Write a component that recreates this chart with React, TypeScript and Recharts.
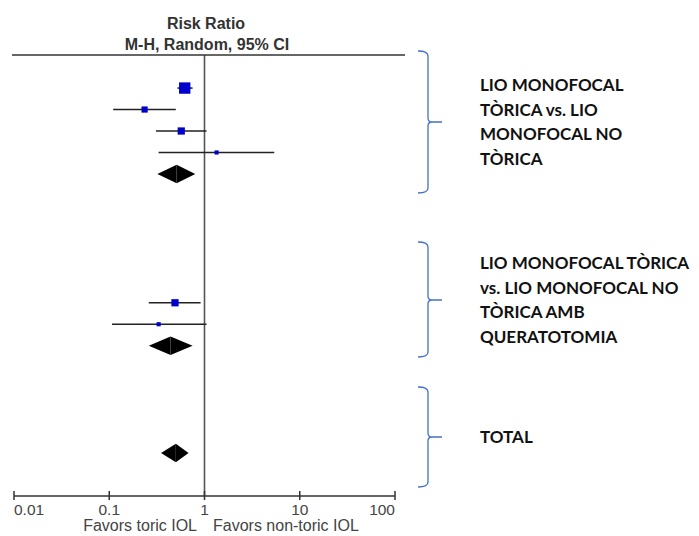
import { ComposedChart, XAxis, YAxis, Scatter, ReferenceLine, ReferenceArea } from "recharts";

// x axis: risk ratio, log scale
const TICKS = [0.01, 0.1, 1, 10, 100];

// individual studies (row = line in the forest plot, top to bottom)
const studyRows = [0, 1, 2, 3, 10, 11];
const studyRR = [0.62, 0.235, 0.57, 1.34, 0.49, 0.33];
const studyLow = [0.52, 0.11, 0.31, 0.33, 0.26, 0.107];
const studyHigh = [0.75, 0.5, 1.05, 5.4, 0.91, 1.05];
const studyWeight = [42.2, 12.5, 17.1, 5.6, 17.1, 5.6];

// pooled estimates (subgroup 1, subgroup 2, total)
const pooledRows = [4, 12, 17];
const pooledRR = [0.51, 0.44, 0.5];
const pooledLow = [0.32, 0.26, 0.35];
const pooledHigh = [0.8, 0.75, 0.68];

const groupLabels = [
  ["LIO MONOFOCAL", "TÒRICA vs. LIO", "MONOFOCAL NO", "TÒRICA"],
  ["LIO MONOFOCAL TÒRICA", "vs. LIO MONOFOCAL NO", "TÒRICA AMB", "QUERATOTOMIA"],
  ["TOTAL"],
];

const W = 699;
const H = 536;
const C_SQUARE = "#0000CC";
const C_LINE = "#333";
const C_BRACE = "#4472C4";
const SANS = "'Liberation Sans', Arial, sans-serif";

const studies = studyRows.map((y, i) => ({
  y,
  x: studyRR[i],
  lo: studyLow[i],
  hi: studyHigh[i],
  w: studyWeight[i],
}));

const SquareShape = (props: any) => {
  const { cx, cy, payload } = props;
  const s = Math.sqrt(payload.w) * 1.75;
  return <rect x={cx - s / 2} y={cy - s / 2} width={s} height={s} fill={C_SQUARE} />;
};

const LeftHalf = (p: any) => (
  <polygon
    points={`${p.x},${p.y + p.height / 2} ${p.x + p.width},${p.y} ${p.x + p.width},${p.y + p.height}`}
    fill="#000"
  />
);
const RightHalf = (p: any) => (
  <polygon
    points={`${p.x},${p.y} ${p.x + p.width},${p.y + p.height / 2} ${p.x},${p.y + p.height}`}
    fill="#000"
  />
);

const AxisTick = (props: any) => {
  const { x, y, payload, index } = props;
  const anchor = index === 0 ? "start" : index === TICKS.length - 1 ? "end" : "middle";
  return (
    <g>
      <line x1={x} x2={x} y1={y - 5} y2={y + 4} stroke={C_LINE} strokeWidth={1.5} />
      <text x={x} y={y + 19} textAnchor={anchor} fontSize={15.5} fill="#444" fontFamily={SANS}>
        {payload.value}
      </text>
    </g>
  );
};

function bracePath(t: number, m: number, b: number) {
  const x0 = 418;
  const x1 = 428;
  const x2 = 442;
  return (
    `M${x0},${t} Q${x1},${t} ${x1},${t + 5} L${x1},${m - 4} Q${x1},${m} ${x1 + 4},${m} L${x2},${m} ` +
    `M${x1 + 4},${m} Q${x1},${m} ${x1},${m + 4} L${x1},${b - 5} Q${x1},${b} ${x0},${b}`
  );
}

const braces = [
  [51, 122, 193],
  [242, 300, 357],
  [387, 437, 487],
];
const labelTop = [91, 269, 443];

export default function App() {
  return (
    <div style={{ position: "absolute", left: 0, top: 0, width: W, height: H, background: "#fff" }}>
      <ComposedChart
        width={W}
        height={H}
        margin={{ top: 55, right: W - 395, bottom: 0, left: 14 }}
      >
        <XAxis
          type="number"
          dataKey="x"
          scale="log"
          domain={[0.01, 100]}
          ticks={TICKS}
          allowDataOverflow
          height={40}
          axisLine={{ stroke: C_LINE, strokeWidth: 1.5 }}
          tickLine={false}
          tickSize={0}
          tickMargin={0}
          tick={<AxisTick />}
          interval={0}
        />
        <YAxis type="number" dataKey="y" domain={[-1.54, 19]} reversed hide allowDataOverflow />
        <ReferenceLine x={1} stroke="#555" strokeWidth={1.6} />
        {studies.map((s, i) => (
          <ReferenceLine
            key={`ci${i}`}
            segment={[
              { x: s.lo, y: s.y },
              { x: s.hi, y: s.y },
            ]}
            stroke="#222"
            strokeWidth={1.5}
          />
        ))}
        {pooledRows.map((r, i) => (
          <ReferenceArea
            key={`dl${i}`}
            x1={pooledLow[i]}
            x2={pooledRR[i]}
            y1={r - 0.43}
            y2={r + 0.43}
            shape={LeftHalf}
          />
        ))}
        {pooledRows.map((r, i) => (
          <ReferenceArea
            key={`dr${i}`}
            x1={pooledRR[i]}
            x2={pooledHigh[i]}
            y1={r - 0.43}
            y2={r + 0.43}
            shape={RightHalf}
          />
        ))}
        <Scatter data={studies} shape={SquareShape} isAnimationActive={false} />
      </ComposedChart>
      <svg
        width={W}
        height={H}
        style={{ position: "absolute", left: 0, top: 0, pointerEvents: "none" }}
      >
        <text x={206} y={29} textAnchor="middle" fontSize={16} fontWeight="bold" fill="#333" fontFamily={SANS}>
          Risk Ratio
        </text>
        <text x={207} y={50} textAnchor="middle" fontSize={16} fontWeight="bold" fill="#333" fontFamily={SANS}>
          M-H, Random, 95% CI
        </text>
        <line x1={12} x2={405} y1={55} y2={55} stroke={C_LINE} strokeWidth={1.5} />
        <text x={197} y={531} textAnchor="end" fontSize={16} fill="#444" fontFamily={SANS}>
          Favors toric IOL
        </text>
        <text x={213} y={531} textAnchor="start" fontSize={16} fill="#444" fontFamily={SANS}>
          Favors non-toric IOL
        </text>
        {braces.map(([t, m, b], i) => (
          <path key={`b${i}`} d={bracePath(t, m, b)} stroke={C_BRACE} strokeWidth={1.3} fill="none" />
        ))}
        {groupLabels.map((lines, g) =>
          lines.map((ln, j) => (
            <text
              key={`l${g}-${j}`}
              x={480}
              y={labelTop[g] + j * 24.5}
              fontSize={17}
              fontWeight="bold"
              fill="#111"
              fontFamily="Lato, 'Open Sans', sans-serif"
            >
              {ln}
            </text>
          ))
        )}
      </svg>
    </div>
  );
}
